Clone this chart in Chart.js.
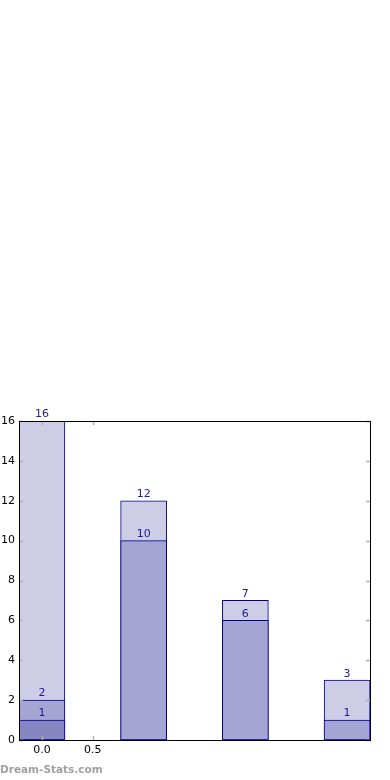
<!DOCTYPE html>
<html>
<head>
<meta charset="utf-8">
<script src="https://cdn.jsdelivr.net/npm/chart.js@4.4.0/dist/chart.umd.min.js"></script>
<style>
    html, body { margin: 0; padding: 0; background: #fff; }
    #wrap { position: relative; width: 390px; height: 780px; }
    #mark {
        position: absolute; left: 0; top: 763px;
        font-family: "DejaVu Sans", sans-serif; font-weight: bold;
        font-size: 10.5px; color: #a0a0a0;
    }
</style>
</head>
<body>
<div id="wrap">
    <canvas id="chart" width="390" height="780"></canvas>
    <div id="mark">Dream-Stats.com</div>
</div>
<script>
// bar positions on the x axis
const positions = [0, 1, 2, 3];
// overlaid series (drawn back to front: total, middle, lowest)
const totalValues = [16, 12, 7, 3];
const middleValues = [2, 10, 6, 1];
const lowValues = [1, null, null, null];
const yTicks = [0, 2, 4, 6, 8, 10, 12, 14, 16];
const xTicks = [0, 0.5];

const edge = "#00008b";
const labelColor = "#1c1c8e";

function points(values) {
    return positions.map((x, i) => ({ x: x, y: values[i] }));
}

// value labels above each bar, inward ticks and the frame
const decorations = {
    id: "decorations",
    afterDatasetsDraw(chart) {
        const ctx = chart.ctx;
        const area = chart.chartArea;
        ctx.save();
        ctx.font = "11px 'DejaVu Sans', sans-serif";
        ctx.fillStyle = labelColor;
        ctx.textAlign = "center";
        ctx.textBaseline = "bottom";
        chart.data.datasets.forEach((ds, di) => {
            const meta = chart.getDatasetMeta(di);
            meta.data.forEach((bar, i) => {
                const v = ds.data[i].y;
                if (v === null) return;
                ctx.fillText(String(v), bar.x, bar.y - 1);
            });
        });

        const xs = chart.scales.x, ys = chart.scales.y;
        ctx.strokeStyle = "#b0b0b0";
        ctx.lineWidth = 1.5;
        ctx.beginPath();
        yTicks.forEach(t => {
            const py = Math.round(ys.getPixelForValue(t)) + 0.5;
            ctx.moveTo(area.left, py); ctx.lineTo(area.left + 4, py);
            ctx.moveTo(area.right, py); ctx.lineTo(area.right - 4, py);
        });
        xTicks.forEach(t => {
            const px = Math.round(xs.getPixelForValue(t)) + 0.5;
            ctx.moveTo(px, area.top); ctx.lineTo(px, area.top + 4);
            ctx.moveTo(px, area.bottom); ctx.lineTo(px, area.bottom - 4);
        });
        ctx.stroke();

        ctx.strokeStyle = "#000";
        ctx.lineWidth = 1;
        ctx.strokeRect(Math.round(area.left) + 0.5, Math.round(area.top) + 0.5,
            Math.round(area.right - area.left), Math.round(area.bottom - area.top));
        ctx.restore();
    }
};

new Chart(document.getElementById("chart").getContext("2d"), {
    type: "bar",
    data: {
        datasets: [
            { data: points(totalValues), backgroundColor: "#cdcde5", order: 3 },
            { data: points(middleValues), backgroundColor: "#a5a5d3", order: 2 },
            { data: points(lowValues), backgroundColor: "#8686c3", order: 1 }
        ].map(ds => Object.assign(ds, {
            borderColor: edge,
            borderWidth: 1,
            borderSkipped: false,
            grouped: false,
            barThickness: 46
        }))
    },
    options: {
        responsive: false,
        animation: false,
        layout: { padding: { top: 421, right: 20, left: 0, bottom: 0 } },
        plugins: { legend: { display: false }, tooltip: { enabled: false } },
        scales: {
            x: {
                type: "linear",
                offset: false,
                min: -0.225,
                max: 3.225,
                grid: { display: false, drawTicks: false, offset: false },
                border: { display: false },
                afterBuildTicks: scale => { scale.ticks = xTicks.map(v => ({ value: v })); },
                afterFit: scale => { scale.height = 40; },
                ticks: {
                    color: "#000",
                    padding: 4,
                    maxRotation: 0,
                    font: { family: "'DejaVu Sans', sans-serif", size: 11 },
                    callback: v => Number(v).toFixed(1)
                }
            },
            y: {
                min: 0,
                max: 16,
                grid: { display: false, drawTicks: false },
                border: { display: false },
                afterBuildTicks: scale => { scale.ticks = yTicks.map(v => ({ value: v })); },
                afterFit: scale => { scale.width = 19; },
                ticks: {
                    color: "#000",
                    padding: 4,
                    font: { family: "'DejaVu Sans', sans-serif", size: 11 }
                }
            }
        }
    },
    plugins: [decorations]
});
</script>
</body>
</html>
